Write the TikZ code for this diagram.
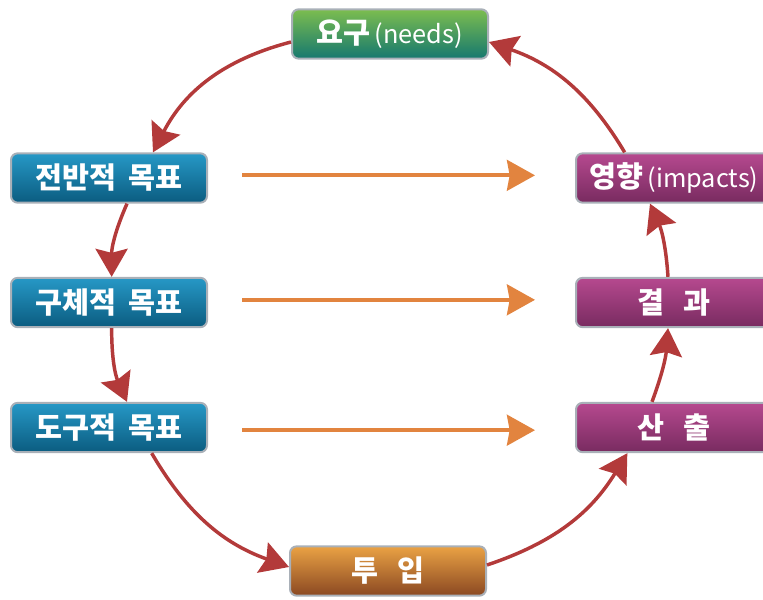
\documentclass[tikz,border=0pt]{standalone}
\usepackage{fontspec}
\newfontfamily\kr{Noto Sans CJK KR}
\usetikzlibrary{arrows.meta,calc}
\definecolor{boxborder}{HTML}{A9B0B8}
\definecolor{gtop}{HTML}{7CBD4F}
\definecolor{gbot}{HTML}{15786F}
\definecolor{btop}{HTML}{2698C6}
\definecolor{bbot}{HTML}{0B5C80}
\definecolor{mtop}{HTML}{B6498F}
\definecolor{mbot}{HTML}{782B60}
\definecolor{otop}{HTML}{EAA244}
\definecolor{obot}{HTML}{8A4822}
\definecolor{cyclered}{HTML}{B33A3A}
\definecolor{linkorange}{HTML}{E2843F}
\begin{document}
\begin{tikzpicture}[x=0.75pt,y=-0.75pt,
  box/.style={draw=boxborder, line width=1.5pt, rounded corners=5pt,
    minimum width=147pt, minimum height=37pt, inner sep=0pt, text=white,
    font=\kr\bfseries\fontsize{22pt}{26pt}\selectfont},
  greenbox/.style={box, top color=gtop, bottom color=gbot},
  bluebox/.style={box, top color=btop, bottom color=bbot},
  magbox/.style={box, top color=mtop, bottom color=mbot},
  orangebox/.style={box, top color=otop, bottom color=obot},
  cyc/.style={draw=cyclered, line width=2.6pt,
    -{Stealth[length=21pt,width=24pt,inset=3pt]}},
  link/.style={draw=linkorange, line width=3pt,
    -{Stealth[length=21pt,width=23pt,inset=2pt]}}
]
\useasboundingbox (0,0) rectangle (763,599);

\node[greenbox] (needs) at (390,34) {요구\hspace{3pt}{\mdseries\fontsize{19pt}{22pt}\selectfont(needs)}};
\node[bluebox] (g1) at (109,178) {전반적 \hspace{4pt}목표};
\node[bluebox] (g2) at (109,302.5) {구체적 \hspace{4pt}목표};
\node[bluebox] (g3) at (109,427.5) {도구적 \hspace{4pt}목표};
\node[orangebox] (inp) at (388,571) {투\hspace{15pt}입};
\node[magbox] (o3) at (674,427.5) {산\hspace{15pt}출};
\node[magbox] (o2) at (674,302.5) {결\hspace{15pt}과};
\node[magbox] (o1) at (674,178) {영향\hspace{3pt}{\mdseries\fontsize{19pt}{22pt}\selectfont(impacts)}};

% cycle arrows
\draw[cyc] ([yshift=-6pt]needs.west) to[bend right=24] ([xshift=33pt]g1.north);
\draw[cyc] ([xshift=13.5pt]g1.south) to[bend right=12] ([xshift=2pt]g2.north);
\draw[cyc] ([xshift=2pt]g2.south) to[bend right=12] ([xshift=13.5pt]g3.north);
\draw[cyc] ([xshift=32pt]g3.south) to[bend right=20] ([yshift=3pt]inp.west);
\draw[cyc] ([yshift=4.5pt]inp.east) to[bend right=20] ([xshift=-35pt]o3.south);
\draw[cyc] ([xshift=-16.5pt]o3.north) to[bend right=8] ([xshift=-4.5pt]o2.south);
\draw[cyc] ([xshift=-4.5pt]o2.north) to[bend right=10] ([xshift=-18pt]o1.south);
\draw[cyc] ([xshift=-37pt]o1.north) to[bend right=20] ([yshift=-6pt]needs.east);

% link arrows
\draw[link] ([xshift=25.5pt,yshift=2pt]g1.east) -- ([xshift=-30pt,yshift=2pt]o1.west);
\draw[link] ([xshift=25.5pt,yshift=2pt]g2.east) -- ([xshift=-30pt,yshift=2pt]o2.west);
\draw[link] ([xshift=25.5pt,yshift=-2pt]g3.east) -- ([xshift=-30pt,yshift=-2pt]o3.west);
\end{tikzpicture}
\end{document}
